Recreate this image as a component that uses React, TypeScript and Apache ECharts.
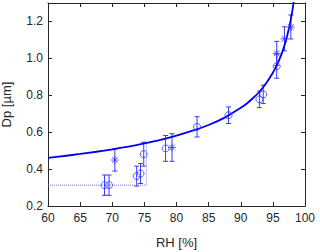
import React, { useEffect, useRef } from "react";
import * as echarts from "echarts";

const circleRH = [68.8, 69.5, 73.8, 74.4, 74.9, 78.3, 83.2, 88.1, 92.9, 93.5, 95.6];
const circleDp = [0.313, 0.313, 0.362, 0.376, 0.481, 0.512, 0.629, 0.692, 0.778, 0.805, 0.957];
const circleErr = [0.055, 0.055, 0.054, 0.054, 0.065, 0.07, 0.055, 0.045, 0.045, 0.05, 0.065];

const starRH = [70.4, 79.3, 95.6, 96.8, 97.8];
const starDp = [0.449, 0.517, 1.027, 1.106, 1.17];
const starErr = [0.06, 0.075, 0.065, 0.065, 0.065];

const curveRH = [60, 62.5, 65, 67.5, 70, 72.5, 75, 77.5, 80, 82.5, 85, 87.5, 90, 91, 92, 93, 94, 95, 95.5, 96, 96.5, 97, 97.5, 98, 98.3];
const curveDp = [0.461, 0.471, 0.482, 0.494, 0.507, 0.522, 0.539, 0.558, 0.581, 0.608, 0.639, 0.679, 0.732, 0.757, 0.788, 0.823, 0.868, 0.922, 0.955, 0.993, 1.038, 1.093, 1.162, 1.251, 1.321];

const dottedRH = [60, 75.3, 75.3];
const dottedDp = [0.313, 0.313, 0.545];

const xTicks = [60, 100, 5];
const yTicks = [0.2, 1.3, 0.2];

const markerColor = "#3a3aff";
const axisColor = "#262626";

export default function App() {
  const ref = useRef<HTMLDivElement>(null);
  useEffect(() => {
    const chart = echarts.init(ref.current!, null, { renderer: "svg" });
    const errData = [
      ...circleRH.map((x, i) => [x, circleDp[i] - circleErr[i], circleDp[i] + circleErr[i]]),
      ...starRH.map((x, i) => [x, starDp[i] - starErr[i], starDp[i] + starErr[i]]),
    ];
    const font = "'Liberation Sans', Arial, sans-serif";
    const hiddenAxis = {
      axisLine: { show: true, lineStyle: { color: axisColor, width: 1 } },
      axisTick: { show: true, inside: true, length: 4, lineStyle: { color: axisColor } },
      axisLabel: { show: false },
      splitLine: { show: false },
    };
    chart.setOption({
      animation: false,
      grid: { left: 48, right: 15, top: 3, bottom: 46, containLabel: false, outerBoundsMode: "none" },
      xAxis: [
        {
          type: "value",
          min: xTicks[0],
          max: xTicks[1],
          interval: xTicks[2],
          name: "RH [%]",
          nameLocation: "middle",
          nameGap: 30,
          nameTextStyle: { fontFamily: font, fontSize: 13, color: axisColor },
          axisLine: { show: true, lineStyle: { color: axisColor, width: 1 } },
          axisTick: { show: true, inside: true, length: 4, lineStyle: { color: axisColor } },
          axisLabel: { fontFamily: font, fontSize: 12, color: axisColor, margin: 6 },
          splitLine: { show: false },
        },
        {
          type: "value",
          position: "top",
          min: xTicks[0],
          max: xTicks[1],
          interval: xTicks[2],
          ...hiddenAxis,
        },
      ],
      yAxis: [
        {
          type: "value",
          min: yTicks[0],
          max: yTicks[1],
          interval: yTicks[2],
          name: "Dp [µm]",
          nameLocation: "middle",
          nameGap: 35,
          nameTextStyle: { fontFamily: font, fontSize: 13, color: axisColor },
          axisLine: { show: true, lineStyle: { color: axisColor, width: 1 } },
          axisTick: { show: true, inside: true, length: 4, lineStyle: { color: axisColor } },
          axisLabel: {
            fontFamily: font,
            fontSize: 12,
            color: axisColor,
            margin: 5,
            formatter: (v: number) => (Math.abs(v - 1.3) < 1e-6 ? "" : v.toFixed(1)),
          },
          splitLine: { show: false },
        },
        {
          type: "value",
          position: "right",
          min: yTicks[0],
          max: yTicks[1],
          interval: yTicks[2],
          ...hiddenAxis,
        },
      ],
      series: [
        {
          type: "line",
          data: dottedRH.map((x, i) => [x, dottedDp[i]]),
          symbol: "none",
          lineStyle: { color: "#7a7aff", width: 1, type: [1, 1] },
          z: 1,
        },
        {
          type: "custom",
          data: errData,
          renderItem: (params: any, api: any) => {
            const x = api.value(0);
            const lo = api.coord([x, api.value(1)]);
            const hi = api.coord([x, api.value(2)]);
            const w = 2.5;
            const style = { stroke: markerColor, lineWidth: 1 };
            return {
              type: "group",
              children: [
                { type: "line", shape: { x1: lo[0], y1: lo[1], x2: hi[0], y2: hi[1] }, style },
                { type: "line", shape: { x1: lo[0] - w, y1: lo[1], x2: lo[0] + w, y2: lo[1] }, style },
                { type: "line", shape: { x1: hi[0] - w, y1: hi[1], x2: hi[0] + w, y2: hi[1] }, style },
              ],
            };
          },
          z: 2,
        },
        {
          type: "line",
          data: curveRH.map((x, i) => [x, curveDp[i]]),
          symbol: "none",
          smooth: 0.2,
          lineStyle: { color: "#0000ee", width: 1.8 },
          clip: true,
          z: 3,
        },
        {
          type: "scatter",
          data: circleRH.map((x, i) => [x, circleDp[i]]),
          symbol: "circle",
          symbolSize: 7,
          itemStyle: { color: "rgba(255,255,255,0)", borderColor: markerColor, borderWidth: 1 },
          z: 4,
        },
        {
          type: "scatter",
          data: starRH.map((x, i) => [x, starDp[i]]),
          symbol: "path://M0,-1L0,1M-1,0L1,0M-0.71,-0.71L0.71,0.71M-0.71,0.71L0.71,-0.71",
          symbolSize: 8,
          itemStyle: { color: "none", borderColor: markerColor, borderWidth: 1 },
          z: 4,
        },
      ],
    });
    return () => chart.dispose();
  }, []);
  return <div ref={ref} style={{ width: 320, height: 252, position: "absolute", left: 0, top: 0 }} />;
}
